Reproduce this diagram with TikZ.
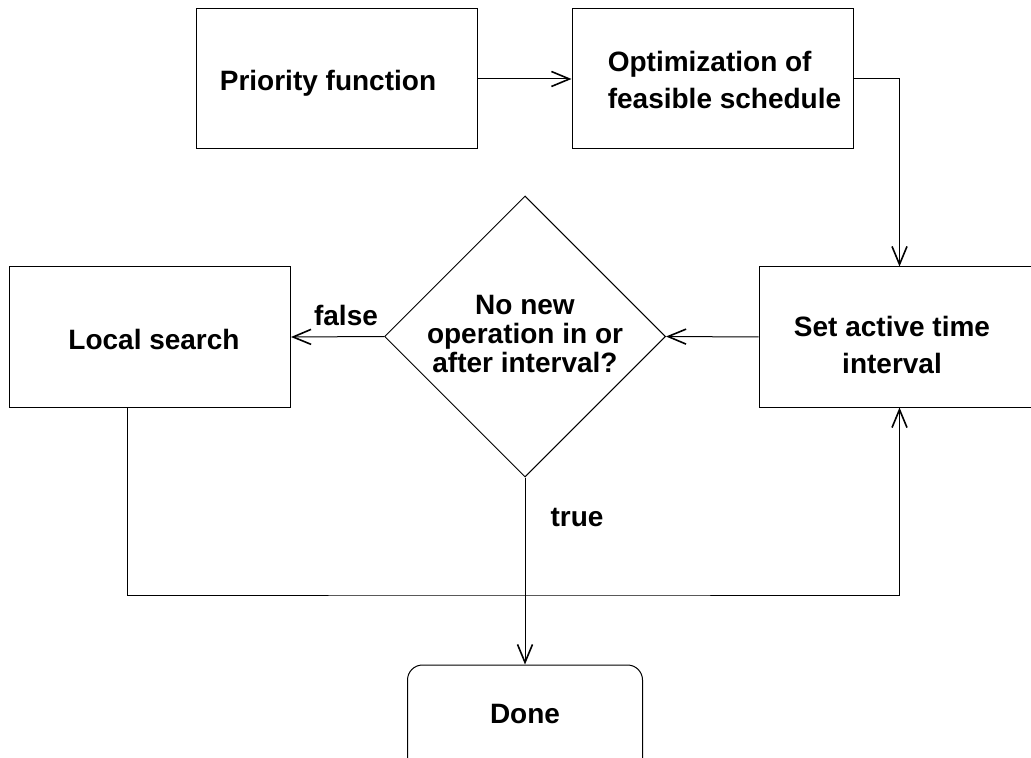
\documentclass[tikz,border=0pt]{standalone}
\usepackage{fontspec}
\setmainfont{Liberation Sans}
\usetikzlibrary{shapes.geometric,arrows.meta}
\begin{document}
\begin{tikzpicture}[x=0.5pt,y=-0.5pt,
  txt/.style={font=\fontsize{14}{18.5}\selectfont\bfseries, align=center, inner sep=0pt},
  dtxt/.style={font=\fontsize{14}{14.5}\selectfont\bfseries, align=center, inner sep=0pt},
  box/.style={draw, line width=0.5pt, minimum width=140.5pt, minimum height=70pt, inner sep=0pt},
  dia/.style={draw, line width=0.5pt, shape=diamond, aspect=1, minimum width=140.5pt, minimum height=140.5pt, inner sep=0pt},
  arr/.style={line width=0.5pt, -{Straight Barb[length=9pt,width=7.5pt,line width=0.8pt]}},
  ln/.style={line width=0.5pt}
]
\clip (0,0) rectangle (1031,758);
% boxes
\node[box] (prio) at (337,79) {};
\node[txt] (priot) at (328,83) {Priority function};
\node[box] (opt) at (712.5,79) {};
\node[txt, align=left] (optt) at (724.5,80) {Optimization of\\feasible schedule};
\node[box] (ls) at (150,337) {};
\node[txt] (lst) at (154,339) {Local search};
\node[box] (set) at (899.5,337) {};
\node[txt] (sett) at (892,345) {Set active time\\interval};
\node[dia] (dia) at (525,336.5) {};
\node[dtxt] (diat) at (525,334) {No new\\operation in or\\after interval?};
\node[box, rounded corners=7.5pt, minimum width=117.5pt] (done) at (525,735) {};
\node[txt] (donet) at (525,714) {Done};
% labels
\node[txt] (false) at (346,315) {false};
\node[txt] (true) at (577,518) {true};
\coordinate (bot) at (525,595);
% connectors
\draw[arr] (prio) -- (opt);
\draw[arr] (opt.east) -| (set.north);
\draw[arr] (set.west) -- (dia.east);
\draw[arr] (dia.west) -- (ls.east);
\draw[arr] (dia.south) -- (done.north);
\draw[arr] ([xshift=59pt]ls.south west) |- (bot) -| (set.south);
\end{tikzpicture}
\end{document}
